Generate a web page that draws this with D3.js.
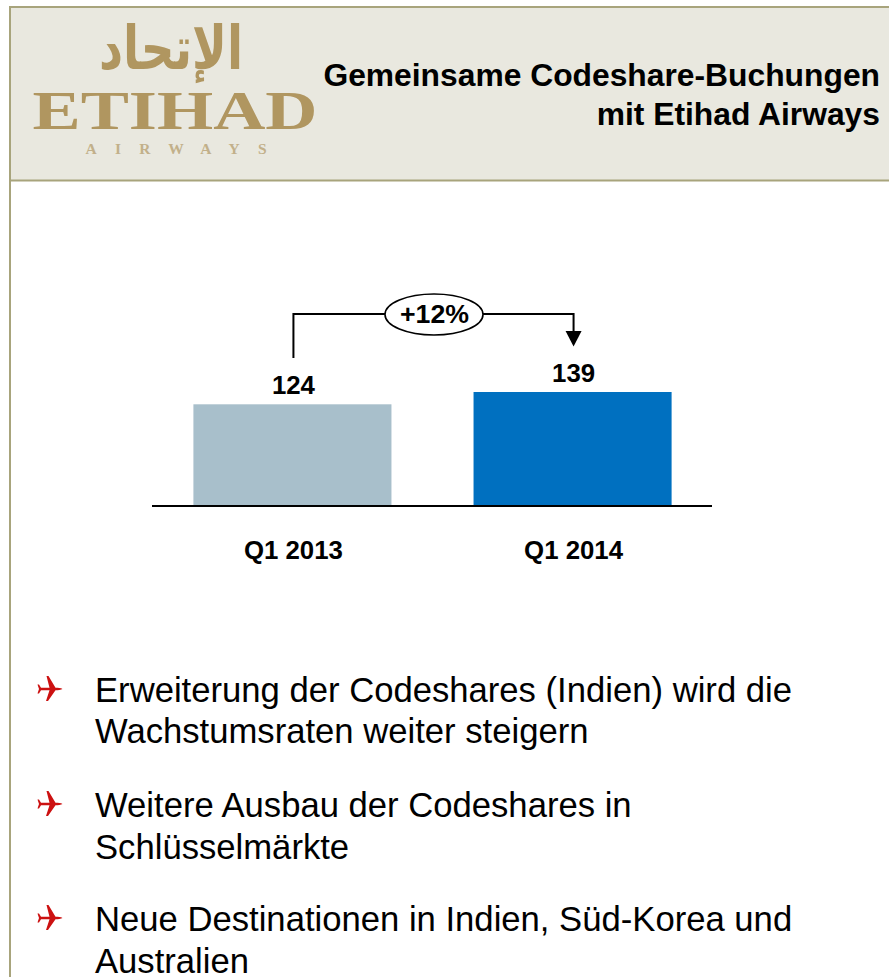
<!DOCTYPE html>
<html><head><meta charset="utf-8">
<script src="https://cdn.jsdelivr.net/npm/d3@7"></script>
<style>html,body{margin:0;padding:0;background:#fff;overflow:hidden}svg{display:block}text{font-family:"Liberation Sans",Arial,sans-serif}</style>
</head><body><svg id="c" width="889" height="977"></svg>
<script>
const categories = ["Q1 2013", "Q1 2014"];
const values = [124, 139];
const barColors = ["#a8bfcb", "#0070c0"];
const growthLabel = "+12%";
const titleLines = ["Gemeinsame Codeshare-Buchungen", "mit Etihad Airways"];
const bullets = [
  ["Erweiterung der Codeshares (Indien) wird die", "Wachstumsraten weiter steigern"],
  ["Weitere Ausbau der Codeshares in", "Schlüsselmärkte"],
  ["Neue Destinationen in Indien, Süd-Korea und", "Australien"]
];
const gold = "#b09660", frame = "#a8a47c";
const svg = d3.select("#c");
// frame
svg.append("rect").attr("x",10).attr("y",7).attr("width",890).attr("height",173).attr("fill","#e9e8df");
svg.append("path").attr("fill","none").attr("stroke",frame).attr("stroke-width",2)
  .attr("d","M890,7H10V990M10,180.5H890");
// logo
const logo = svg.append("g");
logo.append("text").text("الإتحاد").attr("x",171).attr("y",69).attr("text-anchor","middle")
  .attr("font-size",60).attr("font-weight","bold").attr("fill",gold).style("font-family","'DejaVu Sans'")
  .attr("textLength",144).attr("lengthAdjust","spacingAndGlyphs");
logo.append("text").text("ETIHAD").attr("x",175).attr("y",129).attr("text-anchor","middle")
  .attr("font-size",55).attr("font-weight","bold").attr("fill",gold).style("font-family","'Liberation Serif'")
  .attr("textLength",285).attr("lengthAdjust","spacingAndGlyphs");
logo.append("text").text("AIRWAYS").attr("x",176).attr("y",154).attr("text-anchor","middle")
  .attr("font-size",15.5).attr("font-weight","bold").attr("fill","#c2b08a").style("font-family","'Liberation Serif'")
  .attr("textLength",181).attr("lengthAdjust","spacing");
// title
svg.append("g").selectAll("text").data(titleLines).join("text").text(d=>d)
  .attr("x",880).attr("y",(d,i)=>86+i*39).attr("text-anchor","end")
  .attr("font-size",31.8).attr("font-weight","bold").attr("fill","#000");
// chart
const x = d3.scaleBand().domain(categories).range([152.5,712.5]).paddingInner(.293).paddingOuter(.146);
const y = d3.scaleLinear().domain([0,139]).range([506,392]);
svg.append("g").selectAll("rect").data(values).join("rect")
  .attr("x",(d,i)=>x(categories[i])).attr("width",x.bandwidth())
  .attr("y",d=>y(d)).attr("height",d=>y(0)-y(d)).attr("fill",(d,i)=>barColors[i]);
svg.append("g").attr("transform","translate(1,506)")
  .call(d3.axisBottom(x).tickSize(0).tickPadding(35))
  .call(g=>g.select(".domain").attr("stroke","#000").attr("stroke-width",2).attr("transform","translate(-1,0)").attr("d","M152,0H712"))
  .call(g=>g.selectAll("text").attr("font-size",25.8).attr("font-weight","bold").attr("fill","#000").style("font-family",null));
const cx = i => x(categories[i]) + x.bandwidth()/2 + 1;
svg.append("g").selectAll("text").data(values).join("text").text(d=>d)
  .attr("x",(d,i)=>cx(i)).attr("y",d=>y(d)-10).attr("text-anchor","middle")
  .attr("font-size",25.8).attr("font-weight","bold").attr("fill","#000");
// growth connector
const topY = 314;
svg.append("path").attr("fill","none").attr("stroke","#000").attr("stroke-width",2)
  .attr("d",`M${cx(0)},358V${topY}H${cx(1)}V${topY+20}`);
svg.append("path").attr("fill","#000").attr("d",`M${cx(1)-8},${topY+17}h16l-8,15.5z`);
svg.append("ellipse").attr("cx",434).attr("cy",topY+0.5).attr("rx",49).attr("ry",20.5)
  .attr("fill","#fff").attr("stroke","#000").attr("stroke-width",1.6);
svg.append("text").text(growthLabel).attr("x",434.5).attr("y",topY+9).attr("text-anchor","middle")
  .attr("font-size",26.7).attr("font-weight","bold").attr("fill","#000");
// bullets
const lineY = [[701.5,742.5],[816.5,858.5],[930.5,972.5]];
const plane = "M14.5,0 C13,-1 10,-1.2 7.5,-1.2 L0.5,-13 L-1.5,-13 L1.5,-1.2 L-7,-1.2 L-9,-4.5 L-10.5,-4.5 L-9,0 L-10.5,4.5 L-9,4.5 L-7,1.2 L1.5,1.2 L-2,12 L0,12 L7.5,1.2 C10,1.2 13,1 14.5,0 Z";
bullets.forEach((lines,k)=>{
  svg.append("path").attr("d",plane).attr("fill","#cc1111")
    .attr("transform",`translate(48,${lineY[k][0]-12.5})`);
  svg.append("g").selectAll("text").data(lines).join("text").text(d=>d)
    .attr("x",95).attr("y",(d,i)=>lineY[k][i]).attr("font-size",34.65).attr("fill","#000");
});
</script></body></html>
